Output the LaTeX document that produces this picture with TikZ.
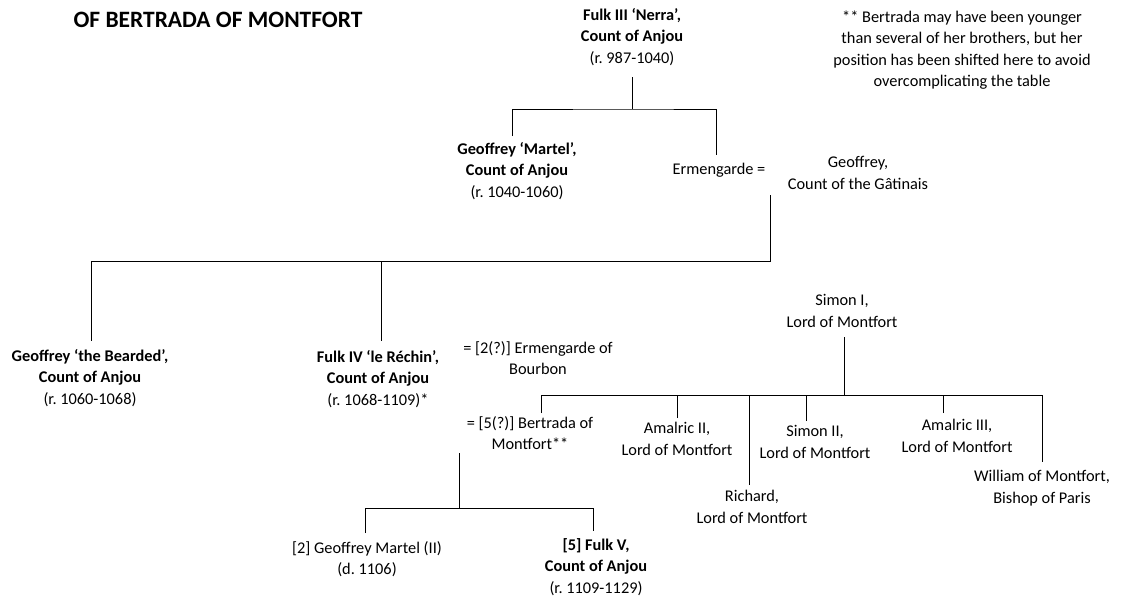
\documentclass[tikz,border=0pt]{standalone}
\usepackage{fontspec}
\setmainfont{Carlito}
\frenchspacing
\begin{document}
\begin{tikzpicture}[x=0.75pt,y=-0.75pt,
  person/.style={align=center, inner sep=0pt, text=black, font=\fontsize{12.25}{16}\selectfont},
  title/.style={inner sep=0pt, font=\fontsize{17.6}{20}\selectfont\bfseries},
  line/.style={draw=black, line width=0.75pt}]
\useasboundingbox (0,0) rectangle (1126,601);

% texts
\node[title] (title) at (218,20) {OF BERTRADA OF MONTFORT};
\node[person] (fulk3) at (632,37) {{\bfseries Fulk III ‘Nerra’,}\\{\bfseries Count of Anjou}\\(r. 987-1040)};
\node[person] (note) at (962,50) {** Bertrada may have been younger\\than several of her brothers, but her\\position has been shifted here to avoid\\overcomplicating the table};
\node[person] (martel) at (517,171) {{\bfseries Geoffrey ‘Martel’,}\\{\bfseries Count of Anjou}\\(r. 1040-1060)};
\node[person] (erm) at (719,170) {Ermengarde =};
\node[person] (geoffG) at (858,173) {Geoffrey,\\Count of the Gâtinais};
\node[person] (bearded) at (90,378) {{\bfseries Geoffrey ‘the Bearded’,}\\{\bfseries Count of Anjou}\\(r. 1060-1068)};
\node[person] (fulk4) at (378,379) {{\bfseries Fulk IV ‘le Réchin’,}\\{\bfseries Count of Anjou}\\(r. 1068-1109)*};
\node[person] (ermB) at (538,358) {= [2(?)] Ermengarde of\\Bourbon};
\node[person] (bertrada) at (530,433) {= [5(?)] Bertrada of\\Montfort**};
\node[person] (simon1) at (842,311) {Simon I,\\Lord of Montfort};
\node[person] (amalric2) at (677,439) {Amalric II,\\Lord of Montfort};
\node[person] (richard) at (752,507) {Richard,\\Lord of Montfort};
\node[person] (simon2) at (815,442) {Simon II,\\Lord of Montfort};
\node[person] (amalric3) at (957,436) {Amalric III,\\Lord of Montfort};
\node[person] (william) at (1042,488) {William of Montfort,\\Bishop of Paris};
\node[person] (geoffM2) at (367,559) {[2] Geoffrey Martel (II)\\(d. 1106)};
\node[person] (fulk5) at (596,567) {{\bfseries [5] Fulk V,}\\{\bfseries Count of Anjou}\\(r. 1109-1129)};

% connector end points
\coordinate (f3down) at (632,77);
\coordinate (f3bar) at (632,109);
\coordinate (martelUp) at (512,136);
\coordinate (ermUp) at (716,155);
\coordinate (uDown) at (770,195);
\coordinate (uBar) at (770,261);
\coordinate (beardedUp) at (91,341);
\coordinate (fulk4Up) at (381,341);
\coordinate (s1Down) at (844,337);
\coordinate (s1Bar) at (844,395);
\coordinate (bertUp) at (541,413);
\coordinate (am2Up) at (677,418);
\coordinate (richUp) at (749,485);
\coordinate (s2Up) at (806,421);
\coordinate (am3Up) at (943,413);
\coordinate (willUp) at (1042,462);
\coordinate (f4Down) at (459,453);
\coordinate (f4Bar) at (459,508);
\coordinate (gm2Up) at (365,533);
\coordinate (f5Up) at (593,531);

% Fulk III's children
\draw[line] (f3down) -- (f3bar);
\draw[line] (martelUp) |- (f3bar) -| (ermUp);
% Ermengarde = Geoffrey
\draw[line] (uDown) -- (uBar) -| (beardedUp);
\draw[line] (uBar) -| (fulk4Up);
% Simon I's children
\draw[line] (s1Down) -- (s1Bar);
\draw[line] (bertUp) |- (s1Bar) -| (willUp);
\draw[line] (am2Up) -- (am2Up |- s1Bar);
\draw[line] (richUp) -- (richUp |- s1Bar);
\draw[line] (s2Up) -- (s2Up |- s1Bar);
\draw[line] (am3Up) -- (am3Up |- s1Bar);
% Fulk IV = Bertrada
\draw[line] (f4Down) -- (f4Bar);
\draw[line] (gm2Up) |- (f4Bar) -| (f5Up);
\end{tikzpicture}
\end{document}
